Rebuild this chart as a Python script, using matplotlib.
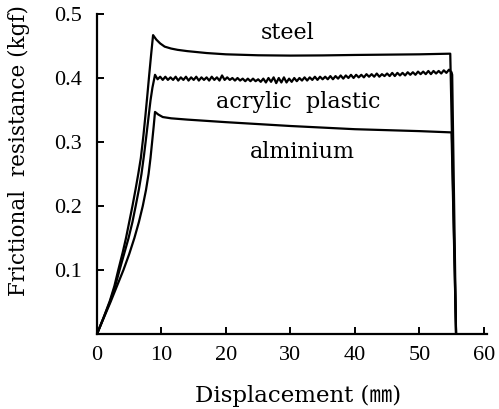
import numpy as np
import matplotlib
matplotlib.use("Agg")
import matplotlib.pyplot as plt

# frictional resistance vs displacement for three materials
steel_x = [0, 1.0, 2.0, 2.7, 3.3, 4.0, 4.5, 5.0, 5.5, 6.0, 6.4, 6.8, 7.2, 7.5,
           7.8, 8.1, 8.4, 8.7,
           9.2, 9.8, 10.5, 11.5, 12.5, 14, 17, 20, 25, 30, 35, 40, 45, 50, 54.8, 55.7]
steel_y = [0, 0.025, 0.052, 0.075, 0.100, 0.128, 0.150, 0.175, 0.200, 0.227, 0.250,
           0.275, 0.310, 0.340, 0.372, 0.405, 0.437, 0.467,
           0.460, 0.454, 0.449, 0.446, 0.444, 0.442, 0.439, 0.437, 0.4355, 0.435,
           0.4353, 0.436, 0.4365, 0.437, 0.438, 0]

acryl_rise_x = [0, 1.0, 2.0, 2.8, 3.5, 4.2, 4.9, 5.5, 6.0, 6.5, 6.9, 7.3, 7.6,
                8.0, 8.3, 8.6]
acryl_rise_y = [0, 0.025, 0.050, 0.074, 0.100, 0.125, 0.150, 0.175, 0.200, 0.226,
                0.250, 0.280, 0.305, 0.340, 0.365, 0.385]
# stick-slip part, sampled every 0.4 mm from 9.0 to 55.0
acryl_slip = [
    0.405, 0.398, 0.402, 0.397, 0.402, 0.397, 0.401, 0.397, 0.402, 0.396,
    0.401, 0.397, 0.402, 0.396, 0.401, 0.397, 0.402, 0.396, 0.401, 0.397,
    0.401, 0.396, 0.402, 0.397, 0.401, 0.396, 0.404, 0.397, 0.401, 0.397,
    0.400, 0.396, 0.400, 0.396, 0.399, 0.395, 0.399, 0.395, 0.399, 0.395,
    0.398, 0.394, 0.399, 0.393, 0.400, 0.394, 0.401, 0.392, 0.400, 0.393,
    0.401, 0.393, 0.399, 0.394, 0.400, 0.395, 0.400, 0.396, 0.401, 0.396,
    0.401, 0.397, 0.402, 0.397, 0.402, 0.398, 0.402, 0.398, 0.403, 0.398,
    0.403, 0.399, 0.404, 0.399, 0.404, 0.400, 0.405, 0.400, 0.405, 0.401,
    0.405, 0.401, 0.406, 0.402, 0.406, 0.402, 0.407, 0.402, 0.406, 0.403,
    0.407, 0.403, 0.408, 0.403, 0.408, 0.404, 0.408, 0.404, 0.409, 0.405,
    0.409, 0.405, 0.410, 0.406, 0.410, 0.406, 0.411, 0.406, 0.411, 0.407,
    0.411, 0.407, 0.412, 0.408, 0.413, 0.409]
acryl_end_x = [55.1, 55.7]
acryl_end_y = [0.405, 0]

alum_x = [0, 1.0, 2.1, 3.1, 4.1, 5.0, 5.8, 6.5, 7.1, 7.6, 8.0, 8.3, 8.55,
          8.8, 9.0,
          9.5, 10.2, 11.5, 14, 20, 30, 40, 50, 55.0, 55.7]
alum_y = [0, 0.024, 0.050, 0.075, 0.100, 0.125, 0.150, 0.175, 0.200, 0.225,
          0.250, 0.275, 0.300, 0.325, 0.347,
          0.343, 0.339, 0.337, 0.335, 0.331, 0.325, 0.320, 0.317, 0.315, 0]

acryl_x = acryl_rise_x + list(np.arange(9.0, 55.01, 0.4)) + acryl_end_x
acryl_y = acryl_rise_y + acryl_slip + acryl_end_y

labels = ["steel", "acrylic  plastic", "alminium"]
label_pos = [(29.6, 0.470), (31.2, 0.362), (31.8, 0.284)]

serif = ["DejaVu Serif", "Noto Sans CJK JP"]

fig = plt.figure(figsize=(4.99, 4.09), dpi=100)
ax = fig.add_axes([97/499, 1-334/409, 390/499, 320/409])

for xs, ys in [(steel_x, steel_y), (acryl_x, acryl_y), (alum_x, alum_y)]:
    ax.plot(xs, ys, color="black", lw=1.6)

for txt, (tx, ty) in zip(labels, label_pos):
    ax.text(tx, ty, txt, ha="center", va="center", fontsize=16, family=serif)

ax.set_xlim(0, 60.5)
ax.set_ylim(0, 0.5)
ax.set_xticks([0, 10, 20, 30, 40, 50, 60])
ax.set_yticks([0.1, 0.2, 0.3, 0.4, 0.5])
ax.set_yticklabels(["0.1", "0.2", "0.3", "0.4", "0.5"])

for s in ["top", "right"]:
    ax.spines[s].set_visible(False)
for s in ["left", "bottom"]:
    ax.spines[s].set_linewidth(1.6)

ax.tick_params(direction="in", length=5, width=1.4, labelsize=16)
ax.tick_params(axis="x", pad=9)
ax.tick_params(axis="y", pad=11)
for lab in ax.get_xticklabels() + ax.get_yticklabels():
    lab.set_family("Liberation Serif")

ax.set_xlabel("Displacement (㎜)", fontsize=16.5, family=serif)
ax.set_ylabel("Frictional  resistance (kgf)", fontsize=15.5, family=serif)
ax.xaxis.set_label_coords(0.515, -0.16)
ax.yaxis.set_label_coords(-0.172, 0.575)

fig.savefig("out.png", dpi=100)
